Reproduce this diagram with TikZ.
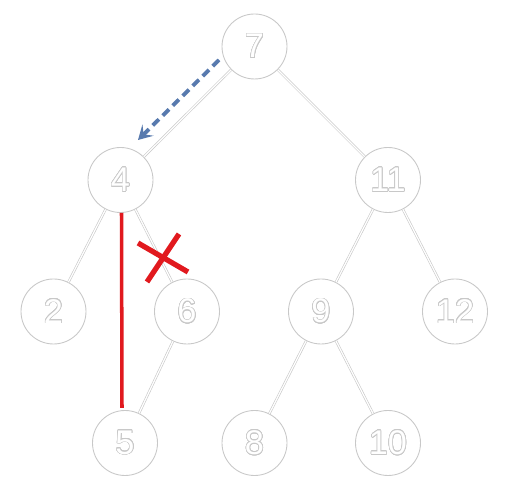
\documentclass[tikz,border=0pt]{standalone}
\usepackage{fontspec}
\setmainfont{Liberation Sans}
\usepackage{contour}
\contourlength{0.35pt}
\contournumber{24}
\usetikzlibrary{arrows.meta}
\definecolor{nodegray}{RGB}{200,200,200}
\definecolor{arrowblue}{RGB}{88,122,174}
\definecolor{markred}{RGB}{225,25,30}
\newcommand{\hollow}[1]{\textcolor{white}{\contour{nodegray}{#1}}}
\tikzset{
  treenode/.style={circle,draw=nodegray,line width=0.5pt,minimum size=1.3cm,inner sep=0pt,
    font=\fontsize{19.5}{22}\selectfont},
  treeedge/.style={draw=nodegray,line width=0.35pt,double=white,double distance=0.7pt}
}
\begin{document}
\begin{tikzpicture}
\useasboundingbox (0,0) rectangle (10.1,9.88);
\node[treenode] (n7) at (5.09,8.95) {\hollow{7}};
\node[treenode] (n4) at (2.41,6.28) {\hollow{4}};
\node[treenode] (n11) at (7.76,6.28) {\hollow{11}};
\node[treenode] (n2) at (1.07,3.65) {\hollow{2}};
\node[treenode] (n6) at (3.74,3.65) {\hollow{6}};
\node[treenode] (n9) at (6.42,3.65) {\hollow{9}};
\node[treenode] (n12) at (9.10,3.65) {\hollow{12}};
\node[treenode] (n5) at (2.50,1.02) {\hollow{5}};
\node[treenode] (n8) at (5.09,1.02) {\hollow{8}};
\node[treenode] (n10) at (7.76,1.02) {\hollow{10}};
% tree edges
\draw[treeedge] (n7) -- (n4);
\draw[treeedge] (n7) -- (n11);
\draw[treeedge] (n4) -- (n2);
\draw[treeedge] (n4) -- (n6);
\draw[treeedge] (n6) -- (n5);
\draw[treeedge] (n11) -- (n9);
\draw[treeedge] (n11) -- (n12);
\draw[treeedge] (n9) -- (n8);
\draw[treeedge] (n9) -- (n10);
% rotation marks
\coordinate (arrA) at (4.38,8.68);
\coordinate (arrB) at (2.76,7.08);
\draw[arrowblue,line width=2.2pt,dash pattern=on 5pt off 3pt,-{Stealth[length=8pt,width=9pt,inset=3.5pt]}] (arrA) -- (arrB);
\coordinate (redA) at (2.43,5.62);
\coordinate (redB) at (2.44,1.72);
\draw[markred,line width=2pt] (redA) -- (redB);
\draw[markred,line width=3pt] (2.76,5.02) -- (3.76,4.44);
\draw[markred,line width=3pt] (3.58,5.20) -- (2.94,4.24);
\end{tikzpicture}
\end{document}
